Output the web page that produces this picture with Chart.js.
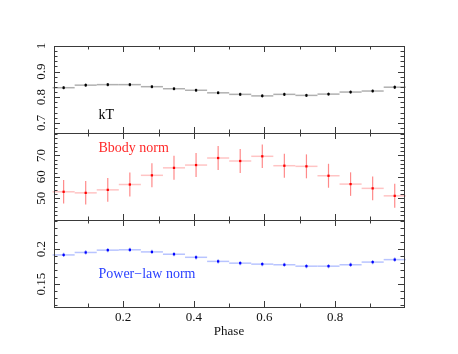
<!DOCTYPE html>
<html><head><meta charset="utf-8">
<script src="https://cdn.jsdelivr.net/npm/chart.js@4/dist/chart.umd.min.js"></script>
<style>html,body{margin:0;padding:0;background:#fff}#wrap{width:458px;height:354px}</style>
</head><body><div id="wrap"><canvas id="c" width="458" height="354"></canvas></div>
<script>
// ---- data ----
const phase = [0.03125,0.09375,0.15625,0.21875,0.28125,0.34375,0.40625,0.46875,0.53125,0.59375,0.65625,0.71875,0.78125,0.84375,0.90625,0.96875];
const binHalfWidth = 0.03125;
const kT = [0.837,0.847,0.849,0.849,0.841,0.833,0.827,0.817,0.811,0.805,0.811,0.807,0.812,0.820,0.824,0.839];
const kTErr = [0.006,0.006,0.006,0.006,0.006,0.006,0.006,0.006,0.006,0.006,0.006,0.006,0.006,0.006,0.006,0.007];
const bbodyNorm = [53.0,52.5,53.9,56.4,60.7,64.2,65.5,68.8,67.4,69.6,65.2,64.9,60.5,56.6,54.6,51.1];
const bbodyErr = [5.5,5.5,5.6,5.6,5.6,5.6,5.6,5.6,5.6,5.5,5.6,5.6,5.6,5.5,5.6,5.6];
const plNorm = [0.1917,0.1952,0.1985,0.1990,0.1960,0.1927,0.1883,0.1825,0.1800,0.1786,0.1777,0.1757,0.1757,0.1777,0.1815,0.1850];
const plErr = [0.0030,0.0030,0.0030,0.0030,0.0030,0.0030,0.0030,0.0030,0.0030,0.0030,0.0030,0.0030,0.0030,0.0030,0.0030,0.0030];
// ---- ticks ----
const xMajorTicks = [0.2,0.4,0.6,0.8];
const xMinorTicks = [0.1,0.3,0.5,0.7,0.9];
const kTTicks = [0.7,0.8,0.9,1];
const bbodyTicks = [50,60,70];
const plTicks = [0.15,0.2];
const labels = ['kT','Bbody norm','Power\u2212law norm'];

const SERIF = '"Liberation Serif","DejaVu Serif",serif';
const panels = [
  {id:'y1', vals:kT, errs:kTErr, ticks:kTTicks, minor:0.02, min:0.66, max:1.0, label:labels[0], col:'#000000', tCol:'#000000', hCol:'#b0b0b0', vCol:'#333333', lx:0.13, ly:0.73},
  {id:'y2', vals:bbodyNorm, errs:bbodyErr, ticks:bbodyTicks, minor:2, min:39.8, max:80.5, label:labels[1], col:'#ff0000', tCol:'#ff2a2a', hCol:'#ffc4c4', vCol:'#ff8a8a', lx:0.13, ly:73.2},
  {id:'y3', vals:plNorm, errs:plErr, ticks:plTicks, minor:0.01, min:0.1176, max:0.2414, label:labels[2], col:'#0000ff', tCol:'#2a40ff', hCol:'#b8c4ff', vCol:'#8c9cff', lx:0.13, ly:0.1645}
];

const errPlugin = {
  id:'errbars',
  beforeDatasetsDraw(chart){
    const ctx = chart.ctx, xs = chart.scales.x;
    panels.forEach(p=>{
      const ys = chart.scales[p.id];
      ctx.save();
      for(let i=0;i<phase.length;i++){
        const x0 = xs.getPixelForValue(phase[i]-binHalfWidth);
        const x1 = xs.getPixelForValue(phase[i]+binHalfWidth);
        const xc = xs.getPixelForValue(phase[i]);
        const yc = ys.getPixelForValue(p.vals[i]);
        const ya = ys.getPixelForValue(p.vals[i]+p.errs[i]);
        const yb = ys.getPixelForValue(p.vals[i]-p.errs[i]);
        ctx.strokeStyle = p.hCol; ctx.lineWidth = 1.5;
        ctx.beginPath(); ctx.moveTo(x0,yc); ctx.lineTo(x1,yc); ctx.stroke();
        ctx.strokeStyle = p.vCol; ctx.lineWidth = 1.2;
        ctx.beginPath(); ctx.moveTo(xc,ya); ctx.lineTo(xc,yb); ctx.stroke();
      }
      ctx.restore();
    });
  },
  afterDraw(chart){
    const ctx = chart.ctx, xs = chart.scales.x, ca = chart.chartArea;
    ctx.save();
    panels.forEach(p=>{
      const ys = chart.scales[p.id];
      const top = ys.top, bot = ys.bottom, L = ca.left, R = ca.right;
      ctx.strokeStyle = '#3a3a3a'; ctx.lineWidth = 1;
      ctx.strokeRect(Math.round(L)+0.5, Math.round(top)+0.5, Math.round(R-L), Math.round(bot-top));
      const xt = (v,len)=>{
        const px = Math.round(xs.getPixelForValue(v))+0.5;
        ctx.beginPath(); ctx.moveTo(px,top); ctx.lineTo(px,top+len); ctx.moveTo(px,bot); ctx.lineTo(px,bot-len); ctx.stroke();
      };
      xMajorTicks.forEach(v=>xt(v,6));
      xMinorTicks.forEach(v=>xt(v,3.5));
      const start = Math.ceil(p.min/p.minor - 1e-6);
      for(let k=start; k*p.minor<=p.max+1e-9; k++){
        const v = k*p.minor;
        const isMajor = p.ticks.some(t=>Math.abs(t-v)<p.minor/10);
        const len = isMajor?6:3.5;
        const py = Math.round(ys.getPixelForValue(v))+0.5;
        ctx.beginPath(); ctx.moveTo(L,py); ctx.lineTo(L+len,py); ctx.moveTo(R,py); ctx.lineTo(R-len,py); ctx.stroke();
      }
      ctx.fillStyle = '#111';
      ctx.font = '13px '+SERIF;
      ctx.textAlign = 'center'; ctx.textBaseline = 'middle';
      p.ticks.forEach(t=>{
        const py = ys.getPixelForValue(t);
        ctx.save(); ctx.translate(L-12, py); ctx.rotate(-Math.PI/2);
        ctx.fillText(String(t), 0, 0); ctx.restore();
      });
      ctx.fillStyle = p.tCol;
      ctx.font = '14px '+SERIF;
      ctx.textAlign = 'left'; ctx.textBaseline = 'middle';
      ctx.fillText(p.label, xs.getPixelForValue(p.lx), ys.getPixelForValue(p.ly));
    });
    ctx.restore();
  }
};

const yScale = (p)=>({
  type:'linear', position:'left', stack:'panels', stackWeight:1, min:p.min, max:p.max,
  grid:{display:false, drawTicks:false}, border:{display:false},
  ticks:{display:false},
  afterFit(s){ s.width = 0; }
});

const datasets = panels.map(p=>({
  data: phase.map((x,i)=>({x:x, y:p.vals[i]})),
  yAxisID: p.id, backgroundColor:p.col, borderColor:p.col,
  pointStyle:'rect', pointRadius:1.6, pointBorderWidth:0, showLine:false
}));

new Chart(document.getElementById('c'), {
  type:'scatter',
  data:{datasets},
  options:{
    responsive:false, animation:false, devicePixelRatio:1,
    layout:{padding:{left:54, right:54, top:46, bottom:13}},
    plugins:{legend:{display:false}, tooltip:{enabled:false}},
    scales:{
      x:{type:'linear', min:0.004, max:0.995,
        grid:{display:false, drawTicks:false}, border:{display:false},
        afterBuildTicks(s){ s.ticks = xMajorTicks.map(v=>({value:v})); },
        ticks:{color:'#111', font:{family:SERIF, size:13}, padding:3, maxRotation:0, autoSkip:false,
          callback:(v)=>String(v)},
        title:{display:true, text:'Phase', color:'#111', font:{family:SERIF, size:13}, padding:{top:0,bottom:2}},
        afterFit(s){ s.height = 34; }
      },
      y3: yScale(panels[2]),
      y2: yScale(panels[1]),
      y1: yScale(panels[0])
    }
  },
  plugins:[errPlugin]
});
</script>
</body></html>
